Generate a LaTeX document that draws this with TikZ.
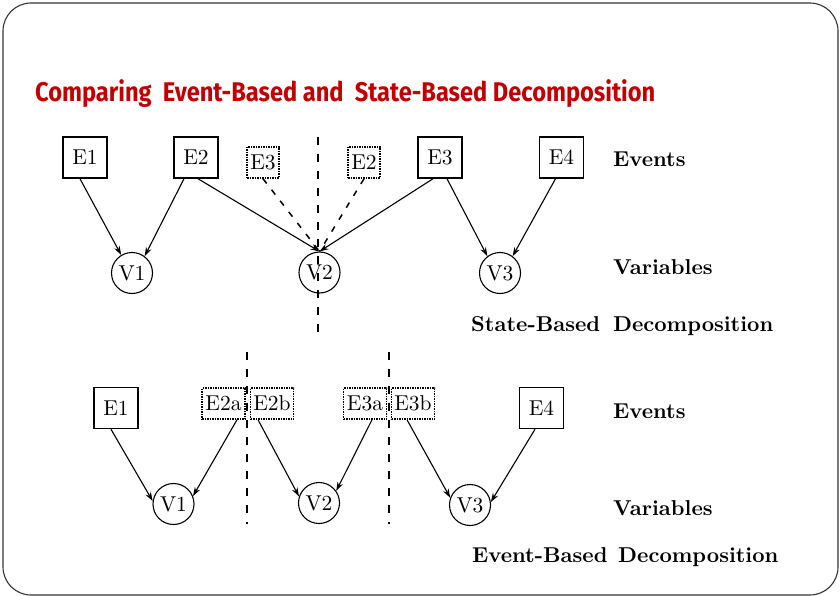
\documentclass[tikz,border=0pt]{standalone}
\usepackage{fontspec}
\usepackage{graphicx}
\newfontfamily\titlefont{Fira Sans}
\usetikzlibrary{arrows.meta}
\definecolor{titlered}{HTML}{C00000}
\newcommand{\cmtxt}[1]{\scalebox{2.15}{\fontsize{10}{12}\selectfont #1}}
\newcommand{\cmbold}[1]{\scalebox{2.15}{\fontsize{10}{12}\selectfont\bfseries #1}}
\begin{document}
\begin{tikzpicture}[x=1pt,y=-1pt,
  ev/.style={draw, line width=1.5pt, minimum width=44pt, minimum height=41pt, inner sep=0pt},
  evd/.style={draw, densely dotted, line width=1.5pt, minimum width=32pt, minimum height=31pt, inner sep=0pt},
  evdw/.style={evd, minimum width=43pt},
  var/.style={draw, circle, line width=1.1pt, minimum size=41pt, inner sep=0pt},
  arr/.style={-{Stealth[length=9pt,width=6pt]}, line width=1.1pt},
  darr/.style={line width=1.5pt, dash pattern=on 6pt off 8pt},
  sepline/.style={line width=1.4pt, dash pattern=on 8pt off 9pt},
  lab/.style={anchor=base west, inner sep=0pt}
]
\useasboundingbox (0,0) rectangle (840,596);
\draw[rounded corners=28pt, line width=1.1pt, black!80] (3,3) rectangle (838,595);

% title
\node[anchor=base west, inner sep=0pt, text=titlered] (title) at (35,102)
  {\resizebox{620pt}{\height}{\fontsize{27}{30}\selectfont\titlefont\bfseries Comparing\ \ Event-Based and\ \ State-Based Decomposition}};

% ---------- State-based (top) ----------
\node[ev] (E1) at (85,157.5) {\cmtxt{E1}};
\node[ev] (E2) at (196,157.5) {\cmtxt{E2}};
\node[evd] (E3d) at (263,162.5) {\cmtxt{E3}};
\node[evd] (E2d) at (364,162.5) {\cmtxt{E2}};
\node[ev] (E3) at (440,157.5) {\cmtxt{E3}};
\node[ev] (E4) at (561.5,157.5) {\cmtxt{E4}};

\node[var] (V1) at (132,273) {\cmtxt{V1}};
\node[var] (V2) at (319.5,272.5) {\cmtxt{V2}};
\node[var] (V3) at (500,273) {\cmtxt{V3}};

\coordinate (s1t) at (318,137);
\coordinate (s1b) at (318,334);
\draw[sepline] (s1t) -- (s1b);

\draw[arr] ([xshift=-5pt]E1.south) -- (V1.121);
\draw[arr] ([xshift=-12pt]E2.south) -- (V1.53);
\draw[arr] ([xshift=2pt]E2.south) -- (V2.north);
\draw[arr] ([xshift=-7pt]E3.south) -- (V2.north);
\draw[arr] ([xshift=7pt]E3.south) -- (V3.127);
\draw[arr] ([xshift=-6pt]E4.south) -- (V3.53);
\draw[darr] (E3d.south) -- (V2.north);
\draw[darr] (E2d.south) -- (V2.north);

\node[lab] (ev1) at (613,167) {\cmbold{Events}};
\node[lab] (va1) at (613,274) {\cmbold{Variables}};
\node[lab] (sb) at (471,331) {\cmbold{State-Based\hspace{6pt}Decomposition}};

% ---------- Event-based (bottom) ----------
\node[ev] (F1) at (116,408) {\cmtxt{E1}};
\node[evdw] (E2a) at (223.5,403.5) {\cmtxt{E2a}};
\node[evdw] (E2b) at (272,403.5) {\cmtxt{E2b}};
\node[evdw] (E3a) at (365,403.5) {\cmtxt{E3a}};
\node[evdw] (E3b) at (413,403.5) {\cmtxt{E3b}};
\node[ev] (F4) at (541.5,408) {\cmtxt{E4}};

\node[var] (W1) at (173.5,504) {\cmtxt{V1}};
\node[var] (W2) at (319,503) {\cmtxt{V2}};
\node[var] (W3) at (470,505) {\cmtxt{V3}};

\coordinate (s2t) at (247,352);
\coordinate (s2b) at (247,524);
\coordinate (s3t) at (389,352);
\coordinate (s3b) at (389,524);
\draw[sepline] (s2t) -- (s2b);
\draw[sepline] (s3t) -- (s3b);

\draw[arr] ([xshift=-5pt]F1.south) -- (W1.172);
\draw[arr] ([xshift=13.5pt]E2a.south) -- (W1.22);
\draw[arr] ([xshift=-14pt]E2b.south) -- (W2.162);
\draw[arr] ([xshift=7pt]E3a.south) -- (W2.35);
\draw[arr] ([xshift=-6pt]E3b.south) -- (W3.160);
\draw[arr] ([xshift=-6.5pt]F4.south) -- (W3.8);

\node[lab] (ev2) at (613,418) {\cmbold{Events}};
\node[lab] (va2) at (613,515) {\cmbold{Variables}};
\node[lab] (eb) at (472,562) {\cmbold{Event-Based\hspace{5pt}Decomposition}};
\end{tikzpicture}
\end{document}
